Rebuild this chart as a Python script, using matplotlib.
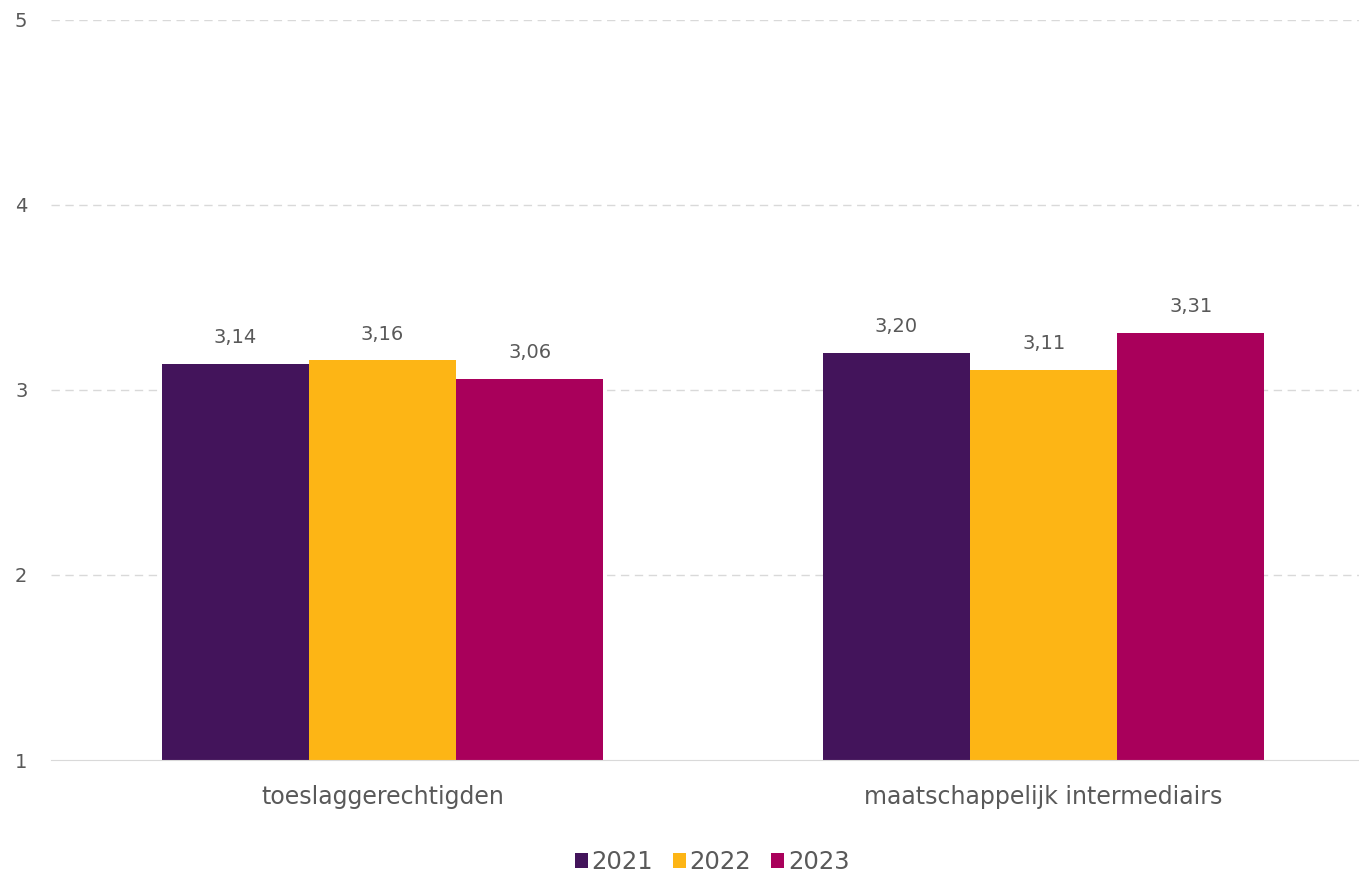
import matplotlib
matplotlib.use("Agg")
import matplotlib.pyplot as plt
from matplotlib.patches import Patch

categories = ["toeslaggerechtigden", "maatschappelijk intermediairs"]
years = ["2021", "2022", "2023"]
values_2021 = [3.14, 3.20]
values_2022 = [3.16, 3.11]
values_2023 = [3.06, 3.31]
series = [values_2021, values_2022, values_2023]
colors = ["#43145B", "#FDB515", "#A9005B"]
text_color = "#595959"

plt.rcParams['font.family'] = ['DejaVu Sans']

fig = plt.figure(figsize=(13.59, 8.74), dpi=100)
ax = fig.add_axes([51/1359, 114/874, (1359-51)/1359, (760-20)/874])

bw = 0.2225
for i, (vals, c) in enumerate(zip(series, colors)):
    xs = [k + (i - 1) * bw for k in range(len(categories))]
    ax.bar(xs, [v - 1 for v in vals], bottom=1, width=bw, color=c, zorder=3)
    for x, v in zip(xs, vals):
        ax.annotate(f"{v:.2f}".replace(".", ","), (x, v), xytext=(0, 12),
                    textcoords="offset points", ha="center", va="bottom",
                    fontsize=14, color=text_color)

ax.set_ylim(1, 5)
ax.set_xlim(-0.5015, 1.477)
ax.set_yticks([1, 2, 3, 4, 5])
ax.set_yticklabels(["1", "2", "3", "4", "5"])
ax.set_xticks(range(len(categories)))
ax.set_xticklabels(categories)
ax.tick_params(axis='both', length=0, colors=text_color)
ax.tick_params(axis='y', pad=17, labelsize=14)
ax.tick_params(axis='x', pad=18, labelsize=17)

ax.grid(axis='y', color="#D9D9D9", linestyle=(0, (6, 4)), linewidth=1, zorder=0)
ax.spines[['top', 'right', 'left']].set_visible(False)
ax.spines['bottom'].set_color("#D9D9D9")
ax.spines['bottom'].set_zorder(4)
ax.set_axisbelow(True)
ax.get_ygridlines()[0].set_visible(False)

handles = [Patch(facecolor=c, label=y) for c, y in zip(colors, years)]
fig.legend(handles=handles, loc="center", bbox_to_anchor=(712/1359, 1 - 862/874), ncol=3,
           frameon=False, fontsize=17.5, handlelength=0.55, handleheight=0.55,
           handletextpad=0.15, columnspacing=0.8, labelcolor=text_color)

fig.savefig("out.png", dpi=100)
